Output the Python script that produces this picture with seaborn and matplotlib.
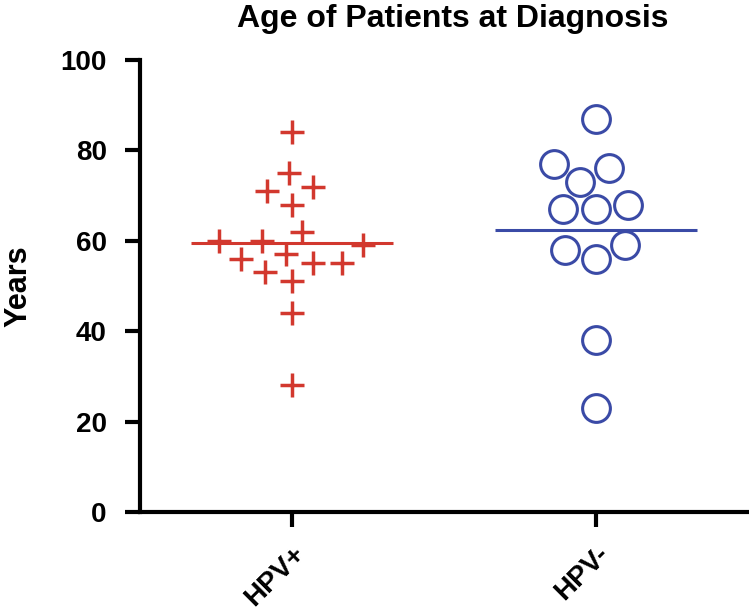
import numpy as np
import pandas as pd
import matplotlib
matplotlib.use("Agg")
import matplotlib.pyplot as plt
import seaborn as sns

# ages at diagnosis
groups = ["HPV+", "HPV-"]
hpv_pos = [84, 75, 71, 72, 68, 62, 59, 60, 60, 56, 57, 55, 55, 53, 51, 44, 28]
hpv_neg = [87, 77, 73, 76, 67, 67, 68, 59, 56, 58, 38, 23]
red = "#d2382e"
blue = "#3a4aa6"

data = pd.DataFrame({
    "group": ["HPV+"] * len(hpv_pos) + ["HPV-"] * len(hpv_neg),
    "age": hpv_pos + hpv_neg,
})

sns.set_style("ticks", {"axes.edgecolor": "black", "text.color": "black",
                        "axes.labelcolor": "black", "xtick.color": "black",
                        "ytick.color": "black"})
plt.rcParams["font.family"] = ["Liberation Sans", "DejaVu Sans"]
plt.rcParams["font.weight"] = "bold"

fig = plt.figure(figsize=(7.49, 6.12), dpi=100)
ax = fig.add_axes([0.187, 0.1634, 0.810, 0.7386])

# swarm layout with a spacing size, markers enlarged afterwards
sns.swarmplot(data=data[data.group == "HPV+"], x="group", y="age", order=groups,
              marker="+", color=red, size=15, linewidth=2.5, ax=ax)
n_pos = len(ax.collections)
sns.swarmplot(data=data[data.group == "HPV-"], x="group", y="age", order=groups,
              marker="o", color="white", edgecolor=blue, size=26, linewidth=2.2, ax=ax)
for i, c in enumerate(ax.collections):
    c.set_sizes([17 ** 2] if i < n_pos else [20 ** 2])

# mean lines
sns.pointplot(data=data, x="group", y="age", order=groups, estimator="mean",
              errorbar=None, linestyle="none", marker="_", markersize=145,
              markeredgewidth=2.2, hue="group", palette=[red, blue], legend=False, ax=ax)

ax.set_xlim(-0.5, 1.497)
ax.set_ylim(0, 100)
ax.set_yticks([0, 20, 40, 60, 80, 100])
ax.set_xlabel("")
ax.set_ylabel("Years", fontsize=22, fontweight="bold", color="black")
ax.yaxis.set_label_coords(-0.175, 0.5)
ax.tick_params(axis="both", width=3, length=11, labelsize=20, colors="black")
ax.tick_params(axis="y", pad=13)
ax.tick_params(axis="x", pad=10)
plt.setp(ax.get_xticklabels(), rotation=45, ha="right", rotation_mode="anchor")
for s in ["left", "bottom"]:
    ax.spines[s].set_linewidth(3)
    ax.spines[s].set_color("black")
sns.despine(ax=ax)

ax.set_title("Age of Patients at Diagnosis", fontsize=23, fontweight="bold", pad=24,
             x=0.516, color="black")

fig.savefig("out.png", dpi=100)
